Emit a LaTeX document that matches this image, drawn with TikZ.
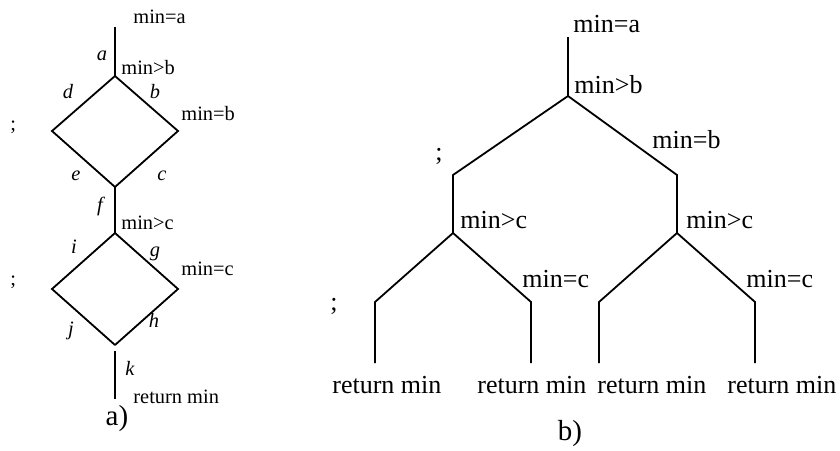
\documentclass[tikz,border=0pt]{standalone}
\usepackage{fontspec}
\setmainfont{Liberation Serif}
\usetikzlibrary{positioning}
\tikzset{wire/.style={line width=0.9pt},
  lbla/.style={inner sep=0pt, anchor=base west, font=\fontsize{10.2}{12}\selectfont},
  lblb/.style={inner sep=0pt, anchor=base west, font=\fontsize{13}{15}\selectfont},
  edgea/.style={inner sep=0pt, anchor=base, font=\fontsize{10.2}{12}\selectfont\itshape},
  sublabel/.style={inner sep=0pt, anchor=base, font=\fontsize{14.5}{17}\selectfont}}

\begin{document}
\begin{tikzpicture}[x=0.5pt,y=-0.5pt]
\useasboundingbox (0,0) rectangle (840,450);
% a) two diamonds
\coordinate (a0) at (115,27);
\coordinate (a1) at (115,76);
\coordinate (a2) at (52,131);
\coordinate (a3) at (178,131);
\coordinate (a4) at (115,187);
\coordinate (a5) at (115,233);
\coordinate (a6) at (52,289);
\coordinate (a7) at (178,289);
\coordinate (a8) at (115,345);
\coordinate (a9) at (115,351);
\coordinate (a10) at (115,399);
\draw[wire] (a0) -- (a1) -- (a2) -- (a4) -- (a5) -- (a6) -- (a8);
\draw[wire] (a1) -- (a3) -- (a4);
\draw[wire] (a5) -- (a7) -- (a8);
\draw[wire] (a9) -- (a10);
\node[lbla] (ma) at (133,23) {min=a};
\node[lbla] (mgb) at (121,74) {min>b};
\node[lbla] (meb) at (181,120) {min=b};
\node[lbla] (mgc) at (121,229) {min>c};
\node[lbla] (mec) at (181,275) {min=c};
\node[lbla] (ra) at (133,403) {return min};
\node[lbla] (sa1) at (10,130) {;};
\node[lbla] (sa2) at (10,285) {;};
\foreach \t/\x/\y in {a/102/60, d/68/98, b/155/98, e/76/180, c/162/180, f/100/211,
    i/74/253, g/155/256, j/71/335, h/154/327, k/130/375}
  \node[edgea] (e\t) at (\x,\y) {\t};
\node[sublabel] (capa) at (117,425) {a)};
% b) tree
\coordinate (b0) at (568,37);
\coordinate (b1) at (568,96);
\coordinate (b2) at (453,175);
\coordinate (b3) at (453,233);
\coordinate (b4) at (677,175);
\coordinate (b5) at (677,233);
\draw[wire] (b0) -- (b1) -- (b2) -- (b3);
\draw[wire] (b1) -- (b4) -- (b5);
\foreach \n/\x/\p/\r in {l1/375/b3/332, l2/531/b3/477, l3/599/b5/597, l4/755/b5/727} {
  \coordinate (\n t) at (\x,302);
  \coordinate (\n b) at (\x,363);
  \draw[wire] (\p) -- (\n t) -- (\n b);
  \node[lblb] (r\n) at (\r,393) {return min};
}
\node[lblb] (mba) at (573,32) {min=a};
\node[lblb] (mbgb) at (574,93) {min>b};
\node[lblb] (mbeb) at (652,148) {min=b};
\node[lblb] (mbgc1) at (460,228) {min>c};
\node[lblb] (mbgc2) at (686,228) {min>c};
\node[lblb] (mbec1) at (522,287) {min=c};
\node[lblb] (mbec2) at (746,287) {min=c};
\node[lblb] (sb1) at (435,160) {;};
\node[lblb] (sb2) at (330,310) {;};
\node[sublabel] (capb) at (570,440) {b)};
\end{tikzpicture}
\end{document}
